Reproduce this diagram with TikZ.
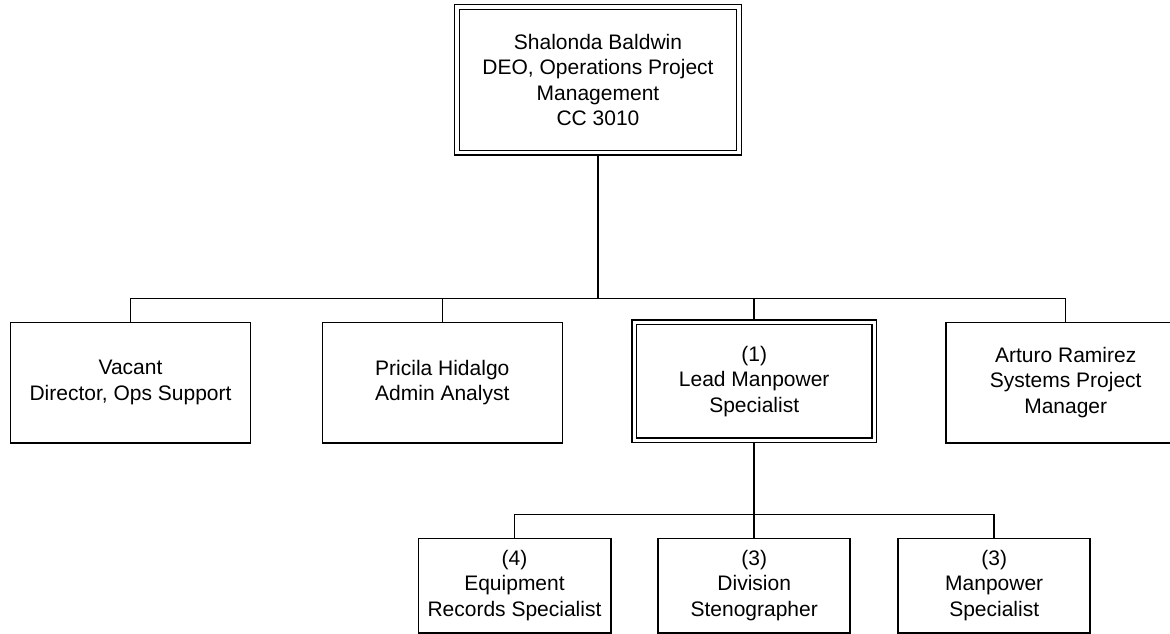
\documentclass[tikz,border=0pt]{standalone}
\usepackage{fontspec}
\setmainfont{Liberation Sans}
\usetikzlibrary{backgrounds}
\begin{document}
\begin{tikzpicture}[x=1pt,y=-1pt,
  box/.style={draw, line width=1.6pt, fill=white, inner sep=0pt, outer sep=0pt, align=center, font=\fontsize{21}{25.5}\selectfont},
  dbox/.style={box, double, line width=1.4pt, double distance=3.2pt},
  link/.style={line width=1.5pt, line cap=rect},
  trunk/.style={line width=2.2pt}]
\useasboundingbox (0,0) rectangle (1170,634);
\clip (0,0) rectangle (1170,634);
% top
\node[dbox, minimum width=282pt, minimum height=145.5pt] (top) at (598,79.75)
  {Shalonda Baldwin\\DEO, Operations Project\\Management\\CC 3010};
% second level
\node[box, minimum width=240pt, minimum height=120.4pt] (vac) at (130.5,382.5)
  {Vacant\\Director, Ops Support};
\node[box, minimum width=240pt, minimum height=120.4pt] (adm) at (442.3,382.5)
  {Pricila Hidalgo\\Admin Analyst};
\node[dbox, minimum width=240pt, minimum height=118pt] (lead) at (754.2,381.3)
  {(1)\\Lead Manpower\\Specialist};
\node[box, minimum width=240pt, minimum height=120.4pt] (sys) at (1065.7,382.5)
  {Arturo Ramirez\\Systems Project\\Manager};
% third level
\node[box, minimum width=192.4pt, minimum height=94.4pt] (equip) at (514.5,585.5)
  {(4)\\Equipment\\Records Specialist};
\node[box, minimum width=192pt, minimum height=94.4pt] (steno) at (754.2,585.5)
  {(3)\\Division\\Stenographer};
\node[box, minimum width=192pt, minimum height=94.4pt] (mp) at (994.2,585.5)
  {(3)\\Manpower\\Specialist};
\begin{scope}[on background layer]
  \coordinate (bus) at (598,298.3);
  \coordinate (bustwo) at (754.2,514.3);
  \draw[trunk] (top.south) -- (top.south |- bus);
  \draw[link] (vac.north |- bus) -- (sys.north |- bus);
  \draw[link] (vac.north) -- (vac.north |- bus);
  \draw[link] (adm.north) -- (adm.north |- bus);
  \draw[link] (lead.north) -- (lead.north |- bus);
  \draw[link] (sys.north) -- (sys.north |- bus);
  \draw[trunk] (lead.south) -- (steno.north);
  \draw[link] (equip.north |- bustwo) -- (mp.north |- bustwo);
  \draw[link] (equip.north) -- (equip.north |- bustwo);
  \draw[link] (mp.north) -- (mp.north |- bustwo);
\end{scope}
\end{tikzpicture}
\end{document}
